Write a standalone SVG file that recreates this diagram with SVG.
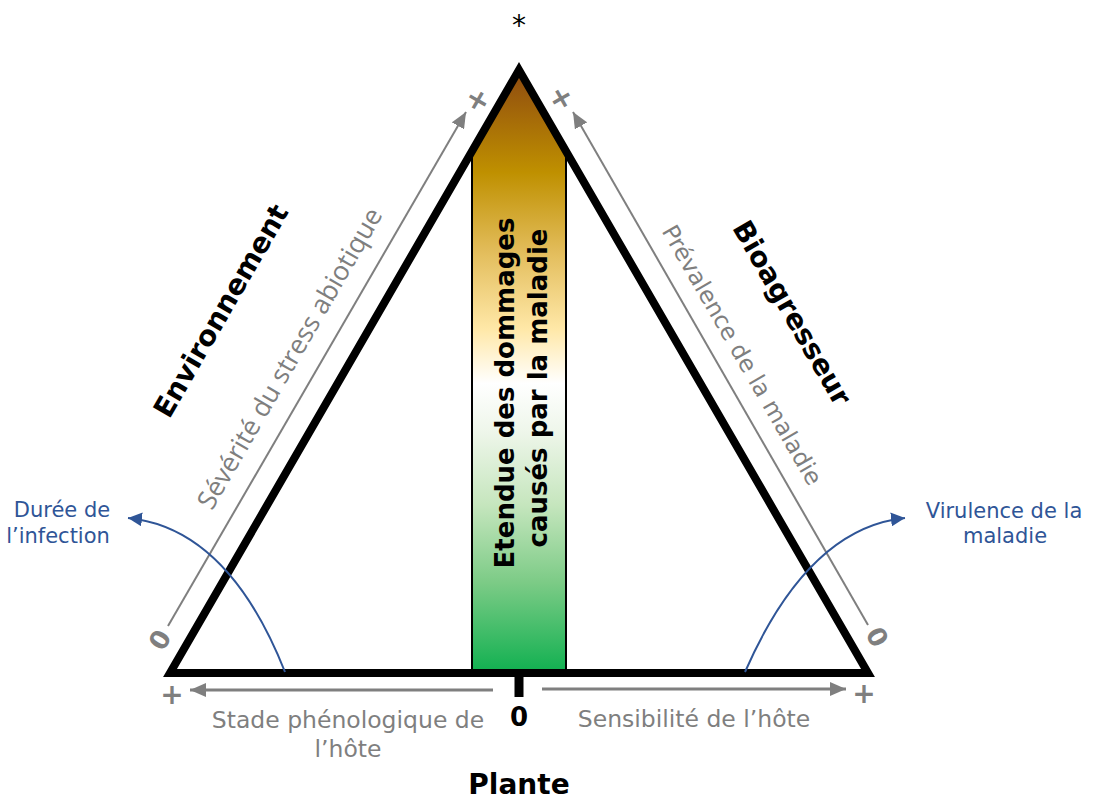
<svg xmlns="http://www.w3.org/2000/svg" width="1094" height="801" viewBox="0 0 1094 801">
<style>
text{font-family:"DejaVu Sans","Liberation Sans",sans-serif}
.b{font-weight:bold;fill:#000}
.g{fill:#7F7F7F}
.gb{fill:#7F7F7F;font-weight:bold}
.bl{fill:#2F5597;font-size:21px}
.ax{stroke:#7F7F7F;fill:none}
.cv{stroke:#2F5597;stroke-width:2;fill:none}
.c{dominant-baseline:central}
</style>
<defs>
<linearGradient id="grad" x1="0" y1="70" x2="0" y2="673" gradientUnits="userSpaceOnUse">
<stop offset="0" stop-color="#8E4A10"/>
<stop offset="0.17" stop-color="#BF9000"/>
<stop offset="0.30" stop-color="#E2BC5A"/>
<stop offset="0.43" stop-color="#FFE8A8"/>
<stop offset="0.52" stop-color="#FFFFFF"/>
<stop offset="0.60" stop-color="#EEF6EA"/>
<stop offset="0.72" stop-color="#C6E6BE"/>
<stop offset="0.85" stop-color="#7CCB86"/>
<stop offset="1" stop-color="#10B050"/>
</linearGradient>
<marker id="ga" viewBox="0 0 16 14" refX="16" refY="7" markerWidth="16" markerHeight="14" markerUnits="userSpaceOnUse" orient="auto">
<path d="M0,0 L16,7 L0,14 z" fill="#7F7F7F"/>
</marker>
<marker id="ba" viewBox="0 0 14 14" refX="14" refY="7" markerWidth="14" markerHeight="14" markerUnits="userSpaceOnUse" orient="auto">
<path d="M0,0 L14,7 L0,14 z" fill="#2F5597"/>
</marker>
</defs>
<rect width="1094" height="801" fill="#fff"/>

<g id="bar">
<polygon points="472,673 472,151 519,70 566,151 566,673" fill="url(#grad)" stroke="#000" stroke-width="2"/>
<text class="b" font-size="26" text-anchor="middle" transform="translate(514,393) rotate(-90)">Etendue des dommages</text>
<text class="b" font-size="26" text-anchor="middle" transform="translate(547,388) rotate(-90)">causés par la maladie</text>
</g>

<g id="triangle">
<polygon points="519,70 868,673 170,673" fill="none" stroke="#000" stroke-width="8" stroke-linejoin="miter"/>
<rect x="514.5" y="673" width="9" height="24" fill="#000"/>
</g>

<g id="connectors">
<path class="ax" stroke-width="2" d="M168,626 L466,112" marker-end="url(#ga)"/>
<path class="ax" stroke-width="2" d="M868,625 L573,112" marker-end="url(#ga)"/>
<path class="ax" stroke-width="3" d="M493,690 L190,690" marker-end="url(#ga)"/>
<path class="ax" stroke-width="3" d="M542,689 L846,689" marker-end="url(#ga)"/>
<path class="cv" d="M285,672 Q228,528 128,518" marker-end="url(#ba)"/>
<path class="cv" d="M745,672 Q808,528 905,518" marker-end="url(#ba)"/>
</g>

<g id="environnement">
<text class="b c" font-size="28" text-anchor="middle" transform="translate(221,311) rotate(-60)">Environnement</text>
<text class="g c" style="font-family:'Open Sans',sans-serif" font-size="26.5" text-anchor="middle" transform="translate(289,358) rotate(-60)">Sévérité du stress abiotique</text>
<text class="gb c" font-size="29" text-anchor="middle" transform="translate(477,100) rotate(-60)">+</text>
<text class="gb c" font-size="26" text-anchor="middle" transform="translate(160,640) rotate(-60)">0</text>
</g>

<g id="bioagresseur">
<text class="b c" font-size="28" text-anchor="middle" transform="translate(792,313) rotate(60)">Bioagresseur</text>
<text class="g c" font-size="23.5" text-anchor="middle" transform="translate(742,355) rotate(60)">Prévalence de la maladie</text>
<text class="gb c" font-size="29" text-anchor="middle" transform="translate(562,98) rotate(60)">+</text>
<text class="gb c" font-size="26" text-anchor="middle" transform="translate(877,637) rotate(60)">0</text>
</g>

<g id="plante">
<text class="b" font-size="28" text-anchor="middle" x="519" y="794">Plante</text>
<text class="b" font-size="26" text-anchor="middle" x="519" y="726">0</text>
<text class="g" font-size="23.5" text-anchor="middle" x="348" y="728">Stade phénologique de</text>
<text class="g" font-size="23.5" text-anchor="middle" x="348" y="757">l’hôte</text>
<text class="g" font-size="23.5" text-anchor="middle" x="694" y="727">Sensibilité de l’hôte</text>
<text class="gb c" font-size="28" text-anchor="middle" x="172" y="694">+</text>
<text class="gb c" font-size="28" text-anchor="middle" x="864" y="693">+</text>
</g>

<g id="apex">
<text font-size="28" text-anchor="middle" x="519" y="35" fill="#000">*</text>
</g>

<g id="duree">
<text class="bl" text-anchor="middle" x="62" y="517">Durée de</text>
<text class="bl" text-anchor="middle" x="58" y="543">l’infection</text>
</g>

<g id="virulence">
<text class="bl" text-anchor="middle" x="1004" y="518">Virulence de la</text>
<text class="bl" text-anchor="middle" x="1005" y="543">maladie</text>
</g>
</svg>
